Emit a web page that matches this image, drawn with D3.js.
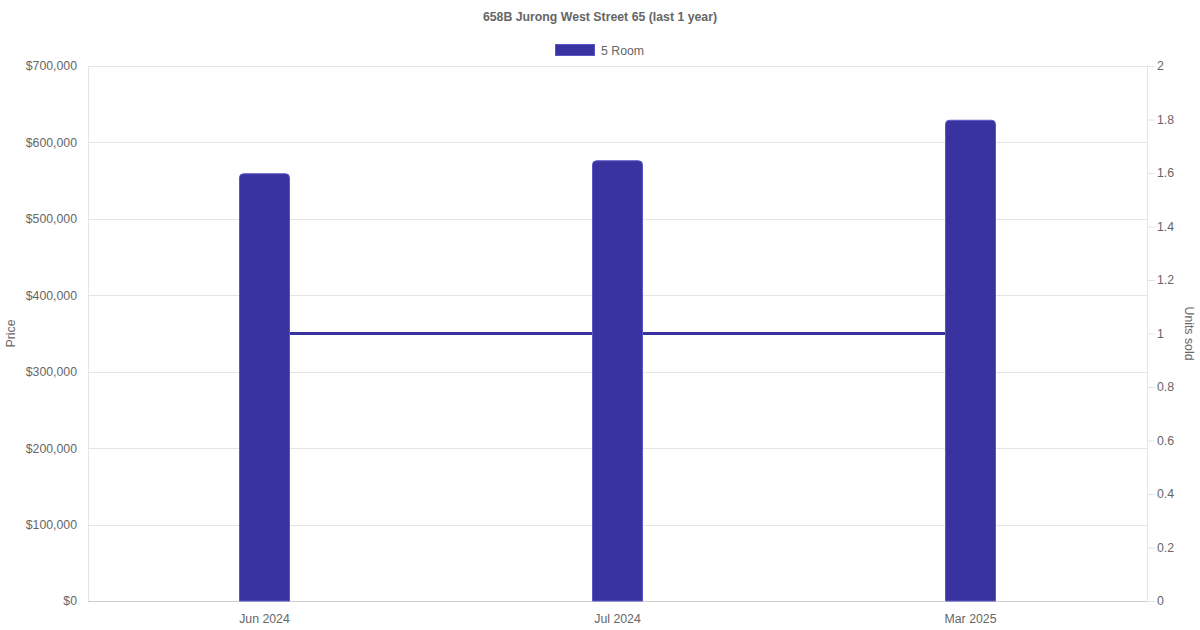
<!DOCTYPE html>
<html>
<head>
<meta charset="utf-8">
<script src="https://cdn.jsdelivr.net/npm/d3@7"></script>
<style>
  body { margin: 0; background: #fff; }
  svg text { font-family: "Liberation Sans", Arial, Helvetica, sans-serif; fill: #666; }
</style>
</head>
<body>
<div id="chart"></div>
<script>
// data
const months = ["Jun 2024", "Jul 2024", "Mar 2025"]
const prices = [559000, 576000, 629000]
const unitsSold = [1, 1, 1]
const priceTicks = [0, 100000, 200000, 300000, 400000, 500000, 600000, 700000]
const unitTicks = [0, 0.2, 0.4, 0.6, 0.8, 1, 1.2, 1.4, 1.6, 1.8, 2]

const W = 1200, H = 630
const margin = { left: 88, right: 53, top: 66, bottom: 29 }
const innerW = W - margin.left - margin.right,
  innerH = H - margin.top - margin.bottom
const barColor = "#38339e"
const fs = "12.3px"

const svg = d3.select("#chart").append("svg")
  .attr("width", W)
  .attr("height", H)

// title + legend
svg.append("text")
  .attr("x", W / 2).attr("y", 21)
  .attr("text-anchor", "middle")
  .style("font-size", fs).style("font-weight", "bold")
  .text("658B Jurong West Street 65 (last 1 year)")

svg.append("rect")
  .attr("x", 555.5).attr("y", 44.5).attr("width", 39).attr("height", 11)
  .attr("fill", barColor).attr("stroke", "#5a55c8").attr("stroke-width", 1)
svg.append("text")
  .attr("x", 601).attr("y", 55)
  .style("font-size", fs)
  .text("5 Room")

const g = svg.append("g")
  .attr("transform", "translate(" + margin.left + "," + margin.top + ")")

// scales
const x = d3.scaleBand().domain(months).range([0, innerW])
const yPrice = d3.scaleLinear().domain([0, 700000]).range([innerH, 0])
const yUnits = d3.scaleLinear().domain([0, 2]).range([innerH, 0])

// horizontal grid from the price axis
g.append("g")
  .selectAll("line")
  .data(priceTicks)
  .enter().append("line")
  .attr("x1", 0).attr("x2", innerW)
  .attr("y1", d => Math.round(yPrice(d)) + 0.5)
  .attr("y2", d => Math.round(yPrice(d)) + 0.5)
  .attr("stroke", d => d === 0 ? "#cfcfcf" : "#e5e5e5")

// side borders
g.append("line").attr("x1", 0.5).attr("x2", 0.5).attr("y1", 0).attr("y2", innerH).attr("stroke", "#e5e5e5")
g.append("line").attr("x1", innerW + 0.5).attr("x2", innerW + 0.5).attr("y1", 0).attr("y2", innerH).attr("stroke", "#e5e5e5")

// left axis
const yAxisLeft = d3.axisLeft(yPrice)
  .tickValues(priceTicks)
  .tickSize(0)
  .tickPadding(11)
  .tickFormat(d => "$" + d3.format(",")(d))
g.append("g").call(yAxisLeft)
  .call(a => a.select(".domain").remove())
  .selectAll("text").style("font-size", fs)

// right axis
const yAxisRight = d3.axisRight(yUnits)
  .tickValues(unitTicks)
  .tickSize(8)
  .tickPadding(2)
  .tickFormat(d3.format("~g"))
g.append("g")
  .attr("transform", "translate(" + innerW + ",0)")
  .call(yAxisRight)
  .call(a => a.select(".domain").remove())
  .call(a => a.selectAll(".tick line").attr("stroke", "#e5e5e5"))
  .selectAll("text").style("font-size", fs)

// bottom axis
const xAxis = d3.axisBottom(x).tickSize(0).tickPadding(13)
g.append("g")
  .attr("transform", "translate(0," + innerH + ")")
  .call(xAxis)
  .call(a => a.select(".domain").remove())
  .selectAll("text").style("font-size", fs)

// axis titles
svg.append("text")
  .attr("transform", "translate(15," + (margin.top + innerH / 2) + ") rotate(-90)")
  .attr("text-anchor", "middle")
  .style("font-size", fs)
  .text("Price")
svg.append("text")
  .attr("transform", "translate(1185," + (margin.top + innerH / 2) + ") rotate(90)")
  .attr("text-anchor", "middle")
  .style("font-size", fs)
  .text("Units sold")

// units line (behind the bars)
const line = d3.line()
  .x((d, i) => x(months[i]) + x.bandwidth() / 2)
  .y(d => yUnits(d))
g.append("path")
  .datum(unitsSold)
  .attr("d", line)
  .attr("fill", "none")
  .attr("stroke", barColor)
  .attr("stroke-width", 3)

// bars with rounded tops
const barW = 50
function barPath(d, i) {
  const x0 = x(months[i]) + x.bandwidth() / 2 - barW / 2
  const y0 = yPrice(d), y1 = yPrice(0), r = 4
  return "M" + x0 + "," + y1 +
    "V" + (y0 + r) +
    "Q" + x0 + "," + y0 + " " + (x0 + r) + "," + y0 +
    "H" + (x0 + barW - r) +
    "Q" + (x0 + barW) + "," + y0 + " " + (x0 + barW) + "," + (y0 + r) +
    "V" + y1 + "Z"
}
g.selectAll(".bar")
  .data(prices)
  .enter().append("path")
  .attr("class", "bar")
  .attr("d", barPath)
  .attr("fill", barColor)
  .attr("stroke", "#5a55c8")
  .attr("stroke-width", 1)
</script>
</body>
</html>
